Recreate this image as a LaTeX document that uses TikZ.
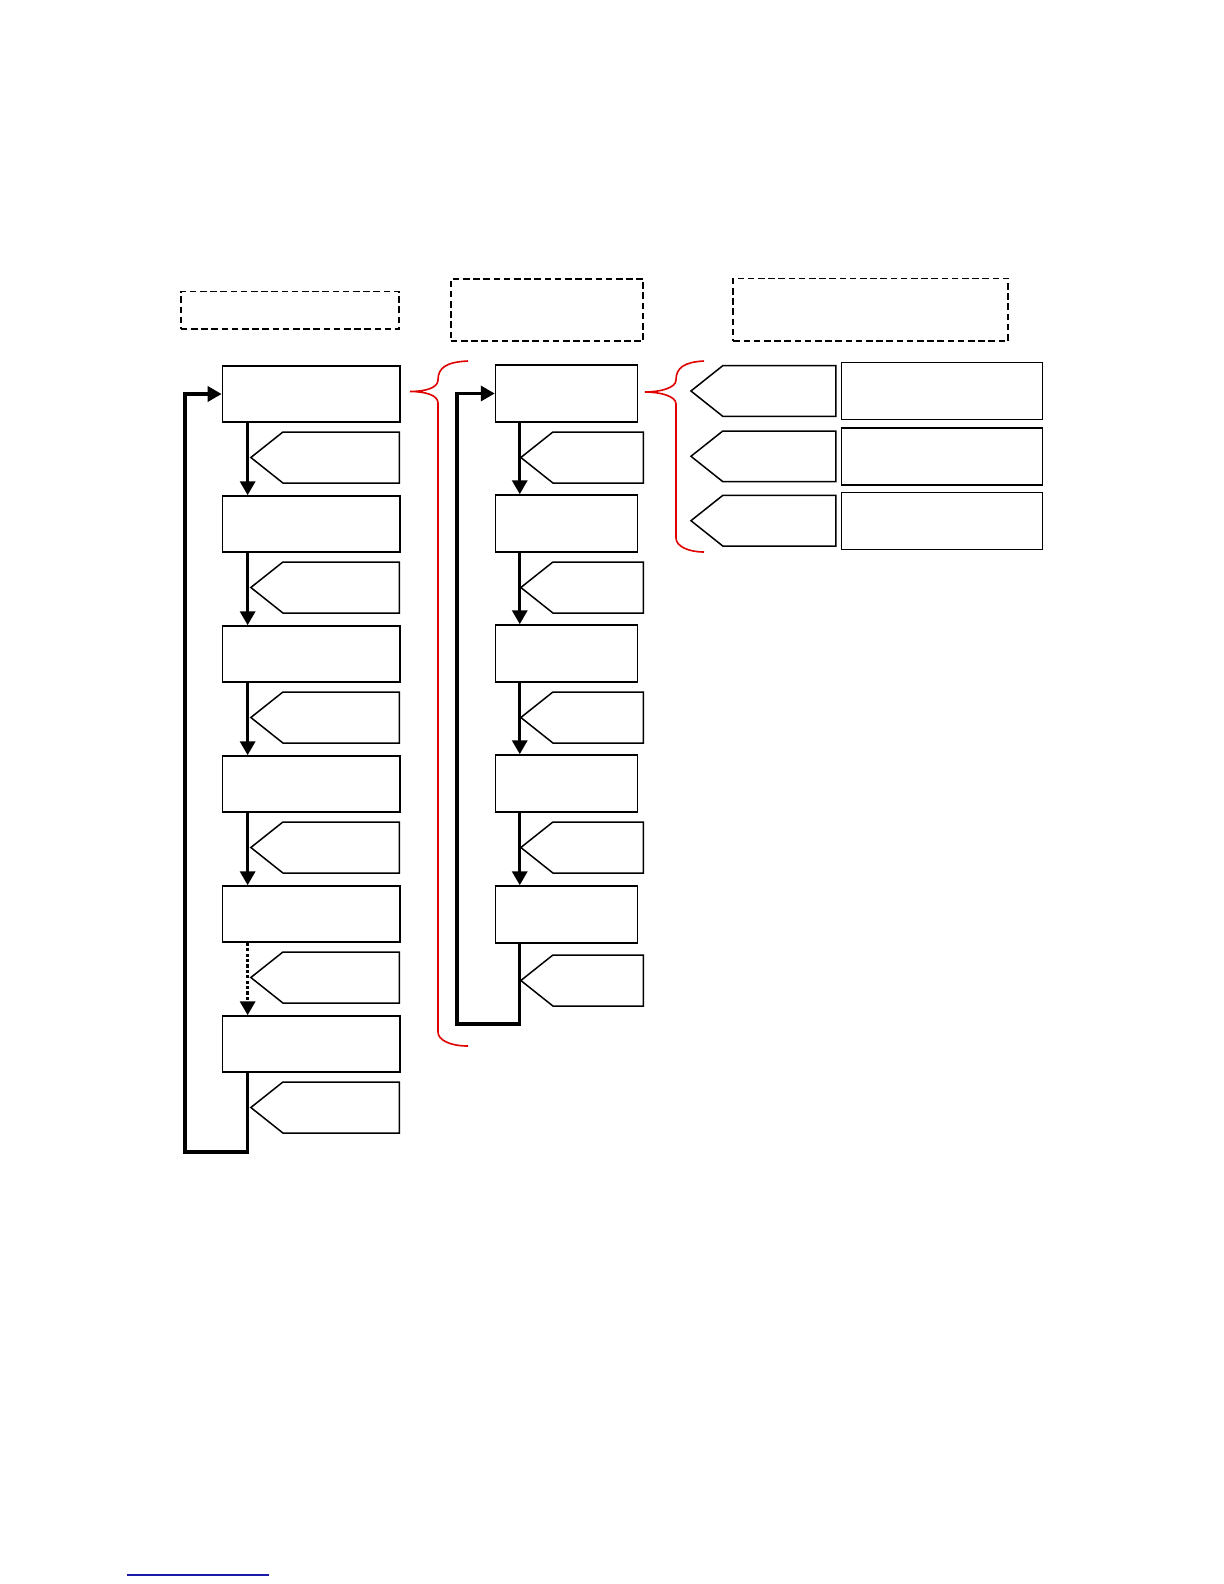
\documentclass[tikz,border=0pt]{standalone}
\usepackage{xcolor}
\usetikzlibrary{arrows.meta,shapes.symbols}
\definecolor{Ink}{HTML}{000000}
\definecolor{BraceRed}{HTML}{E00000}
\definecolor{LinkBlue}{HTML}{1A1AA6}
\definecolor{Paper}{HTML}{FFFFFF}

\begin{document}
\begin{tikzpicture}[x=0.5pt,y=-0.5pt,stepbox/.style={draw=Ink,fill=Paper,line width=0.75pt,inner sep=0pt,minimum width=88.8pt,minimum height=28pt},smallstep/.style={stepbox,minimum width=71.1pt,minimum height=28.5pt},widestep/.style={stepbox,minimum width=100.3pt,minimum height=28.5pt},tagbox/.style={signal,signal to=west,signal pointer angle=77,draw=Ink,fill=Paper,line width=0.75pt,inner sep=0pt,anchor=east,minimum width=74.2pt,minimum height=25.5pt},headbox/.style={draw=Ink,dash pattern=on 3.3pt off 1.8pt,line width=0.85pt,inner sep=0pt},flowarrow/.style={-{Triangle[length=7pt,width=7.5pt]},line width=1.7pt,draw=Ink},bracestyle/.style={draw=BraceRed,line width=0.8pt}]
\useasboundingbox (0,0) rectangle (1224,1584);
% headings
\node[headbox,minimum width=109.3pt,minimum height=18.7pt] (headL) at (290,310.3) {};
\node[headbox,minimum width=96.3pt,minimum height=31pt] (headM) at (547,310) {};
\node[headbox,minimum width=137.5pt,minimum height=31.3pt] (headR) at (870.8,309.7) {};
% left column
\node[stepbox] (L1) at (311.2,394) {};
\node[stepbox] (L2) at (311.2,524) {};
\node[stepbox] (L3) at (311.2,654) {};
\node[stepbox] (L4) at (311.2,784) {};
\node[stepbox] (L5) at (311.2,914) {};
\node[stepbox] (L6) at (311.2,1044) {};
\node[tagbox] (tagL1) at (400,457.5) {};
\node[tagbox] (tagL2) at (400,587.5) {};
\node[tagbox] (tagL3) at (400,717.5) {};
\node[tagbox] (tagL4) at (400,847.5) {};
\node[tagbox] (tagL5) at (400,977.5) {};
\node[tagbox] (tagL6) at (400,1107.5) {};
\coordinate (loopL) at (185,1152);
\draw[flowarrow] ([xshift=13pt]L1.south west) -- ([xshift=13pt]L2.north west);
\draw[flowarrow] ([xshift=13pt]L2.south west) -- ([xshift=13pt]L3.north west);
\draw[flowarrow] ([xshift=13pt]L3.south west) -- ([xshift=13pt]L4.north west);
\draw[flowarrow] ([xshift=13pt]L4.south west) -- ([xshift=13pt]L5.north west);
\draw[flowarrow,dash pattern=on 1.6pt off 1.1pt] ([xshift=13pt]L5.south west) -- ([xshift=13pt]L6.north west);
\draw[flowarrow] ([xshift=13pt]L6.south west) |- (loopL) |- (L1.west);
% middle column
\node[smallstep] (M1) at (566.6,393.5) {};
\node[smallstep] (M2) at (566.6,523.5) {};
\node[smallstep] (M3) at (566.6,653.5) {};
\node[smallstep] (M4) at (566.6,783.5) {};
\node[smallstep] (M5) at (566.6,914.5) {};
\node[tagbox,minimum width=61.2pt] (tagM1) at (644,457.5) {};
\node[tagbox,minimum width=61.2pt] (tagM2) at (644,587.5) {};
\node[tagbox,minimum width=61.2pt] (tagM3) at (644,717.5) {};
\node[tagbox,minimum width=61.2pt] (tagM4) at (644,847.5) {};
\node[tagbox,minimum width=61.2pt] (tagM5) at (644,980.5) {};
\coordinate (loopM) at (457,1024);
\draw[flowarrow] ([xshift=12.5pt]M1.south west) -- ([xshift=12.5pt]M2.north west);
\draw[flowarrow] ([xshift=12.5pt]M2.south west) -- ([xshift=12.5pt]M3.north west);
\draw[flowarrow] ([xshift=12.5pt]M3.south west) -- ([xshift=12.5pt]M4.north west);
\draw[flowarrow] ([xshift=12.5pt]M4.south west) -- ([xshift=12.5pt]M5.north west);
\draw[flowarrow] ([xshift=12.5pt]M5.south west) |- (loopM) |- (M1.west);
% right column
\node[tagbox,minimum width=72.5pt,minimum height=25.3pt] (tagR1) at (836.7,391) {};
\node[tagbox,minimum width=72.5pt,minimum height=25.3pt] (tagR2) at (836.7,456.3) {};
\node[tagbox,minimum width=72.5pt,minimum height=25.3pt] (tagR3) at (836.7,520.7) {};
\node[widestep] (R1) at (942,390.8) {};
\node[widestep] (R2) at (942,456.5) {};
\node[widestep] (R3) at (942,520.8) {};
% braces
\draw[bracestyle] (468,361) .. controls (446,362) and (438,368) .. (438,380) .. controls (438,388) and (425,391.5) .. (410,391.5) .. controls (425,391.5) and (438,395) .. (438,403) -- (438,1032) .. controls (438,1040) and (450,1046) .. (468,1046);
\draw[bracestyle] (704,361) .. controls (684,362) and (676,368) .. (676,380) .. controls (676,388) and (660,392) .. (645,392) .. controls (660,392) and (676,396) .. (676,404) -- (676,538) .. controls (676,546) and (688,552) .. (704,552);
\draw[LinkBlue,line width=0.6pt] (127,1575) -- (269,1575);
\end{tikzpicture}
\end{document}
